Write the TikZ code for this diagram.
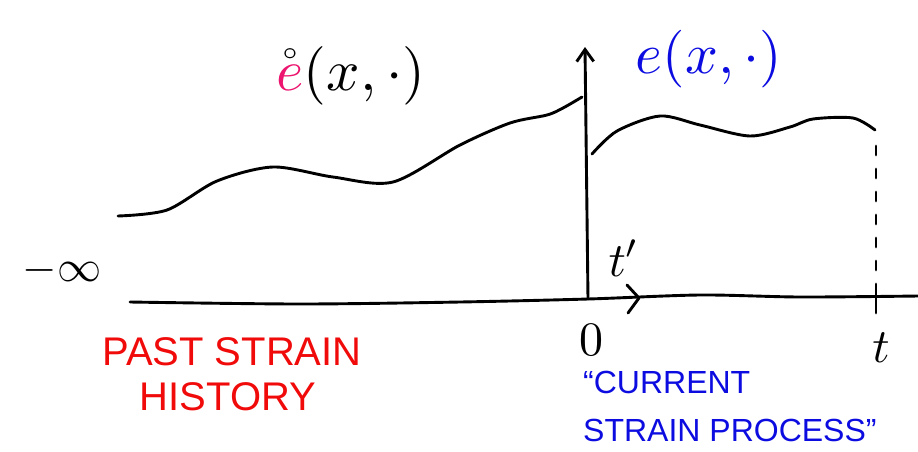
\documentclass[tikz,border=0pt]{standalone}
\usepackage{amsmath,amssymb}
\usepackage{fontspec}
\setsansfont{Liberation Sans}
\usepackage{tikz}
\usepackage{xcolor}
\usetikzlibrary{arrows.meta}

\definecolor{pinkE}{RGB}{236,20,110}
\definecolor{handblue}{RGB}{12,12,225}
\definecolor{handred}{RGB}{240,10,10}

\begin{document}
\begin{tikzpicture}[x=1pt,y=-1pt,
    hand/.style={line width=2.9pt,line cap=round,line join=round},
    redlab/.style={text=handred,font=\sffamily\fontsize{40}{44}\selectfont,inner sep=0pt},
    bluelab/.style={text=handblue,font=\sffamily\fontsize{32}{36}\selectfont,inner sep=0pt,anchor=west},
    sym/.style={scale=4.8,inner sep=0pt}]
    \useasboundingbox (0,0) rectangle (918,451);

    % axes
    \coordinate (xstart) at (130,302);
    \coordinate (o) at (588,299);
    \coordinate (xend) at (918,296);
    \coordinate (ytop) at (585,47);
    \coordinate (tmark) at (639,298);
    \coordinate (tpt) at (876,298);
    \draw[hand] plot[smooth] coordinates {(xstart) (300,304) (460,302) (o) (700,295) (800,297) (xend)};
    \draw[hand,-{Straight Barb[length=12pt,width=17pt]}] (o) -- (ytop);
    \draw[hand] ([shift={(-12,-13)}]tmark) -- (tmark) -- ([shift={(-11,15)}]tmark);

    % strain curves
    \draw[hand] plot[smooth] coordinates {(118,216) (167,210) (217,181) (273,167) (333,177) (393,182) (460,145) (510,123) (547,115) (563,108) (582,97)};
    \draw[hand] plot[smooth] coordinates {(592,154) (617,131) (660,116) (700,125) (750,136) (790,127) (813,119) (853,118) (875,130)};
    \draw[hand,dash pattern=on 9pt off 14pt] (876,146) -- (876,278);
    \draw[hand] (876,284) -- ([shift={(0,15)}]tpt);

    % labels
    \node[sym,scale=1.22,anchor=base] (epast) at (351,90) {$\mathring{\textcolor{pinkE}{e}}(x,\cdot)$};
    \node[sym,scale=1.2,anchor=base,text=handblue] (ecur) at (709,73) {$e(x,\cdot)$};
    \node[sym,scale=0.92] (minf) at (62,270) {$-\infty$};
    \node[sym] (zero) at (591,340) {$0$};
    \node[sym] (tlab) at (881,348) {$t$};
    \node[sym] (tprime) at (624,258) {$t'$};

    \node[redlab] (past) at (232,352) {PAST STRAIN};
    \node[redlab] (hist) at (228,397) {HISTORY};
    \node[bluelab] (cur) at (583,382) {``CURRENT};
    \node[bluelab] (proc) at (583,430) {STRAIN PROCESS''};
\end{tikzpicture}
\end{document}
